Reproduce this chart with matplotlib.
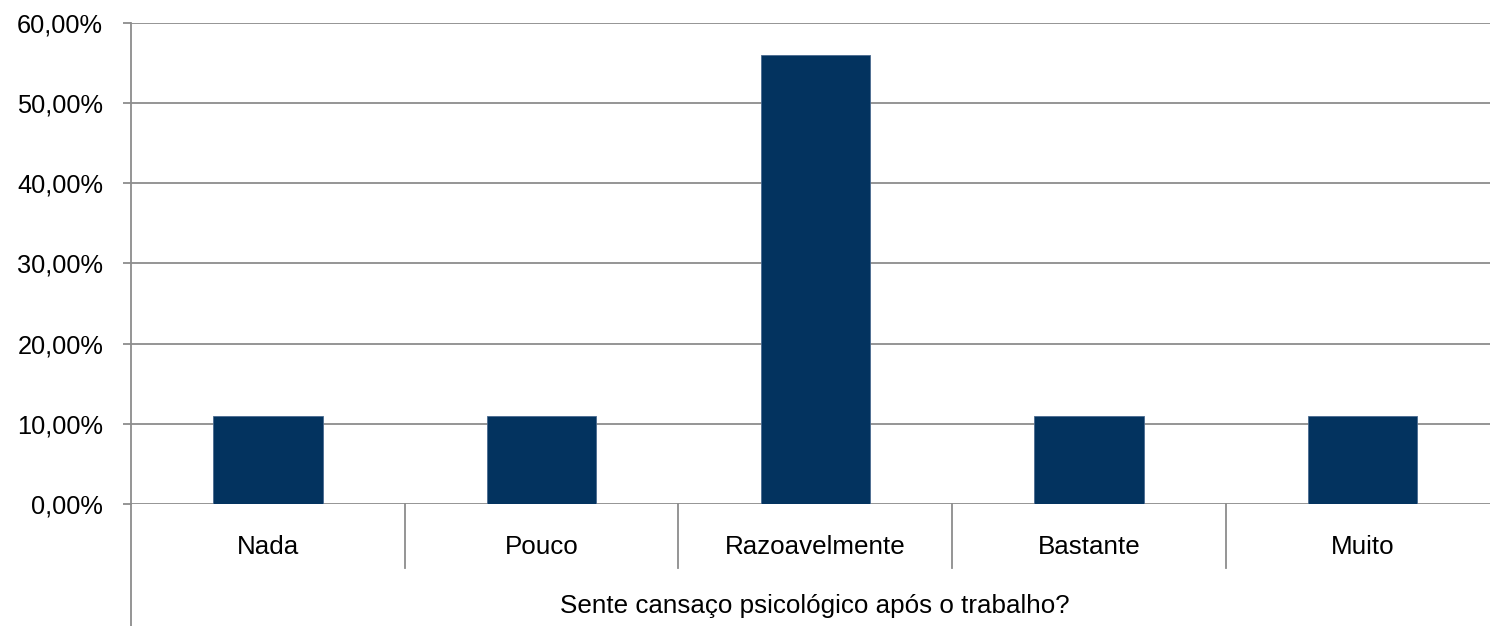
import matplotlib
matplotlib.use("Agg")
import matplotlib.pyplot as plt
import numpy as np

plt.rcParams['font.family'] = ['Liberation Sans', 'DejaVu Sans']

categories = ["Nada", "Pouco", "Razoavelmente", "Bastante", "Muito"]
values = [11, 11, 56, 11, 11]
yticks = [0, 10, 20, 30, 40, 50, 60]
xlabel = "Sente cansaço psicológico após o trabalho?"

W, H = 1490, 626
fig = plt.figure(figsize=(W / 100, H / 100), dpi=100)
left, right = 131, 1490
top, bottom = 22.7, 504
ax = fig.add_axes([left / W, 1 - bottom / H, (right - left) / W, (bottom - top) / H])

grid_col = "#8c8c8c"
bar_col = "#03335F"
x = np.arange(len(categories))
ax.bar(x, values, width=0.4, color=bar_col, edgecolor="#4a6a8f", linewidth=0.6, zorder=3)

cat_w = 273.7
ax.set_xlim(-0.5, -0.5 + (right - left) / cat_w)
ax.set_ylim(0, 60)
ax.set_yticks(yticks)
ax.set_yticklabels([f"{v:.2f}%".replace(".", ",") for v in yticks], fontsize=18.3)
ax.yaxis.grid(True, color=grid_col, linewidth=1.3, zorder=0)
ax.set_axisbelow(True)
ax.tick_params(axis="y", length=6, width=1.3, color=grid_col, pad=14)
ax.set_xticks([])
for s in ["top", "right", "bottom"]:
    ax.spines[s].set_visible(False)
ax.spines["left"].set_color(grid_col)
ax.spines["left"].set_linewidth(1.3)

tr = ax.get_xaxis_transform()
unit = bottom - top
# category separators below the axis
for i in range(1, len(categories)):
    ax.plot([i - 0.5, i - 0.5], [0, -(568 - bottom) / unit], transform=tr,
            color=grid_col, linewidth=1.3, clip_on=False)
# left axis line extended to the bottom
ax.plot([-0.5, -0.5], [0, -(H - bottom) / unit], transform=tr,
        color=grid_col, linewidth=1.3, clip_on=False)

for i, c in enumerate(categories):
    ax.text(i, -(547 - bottom) / unit, c, transform=tr, ha="center", va="center", fontsize=18.7)
ax.text(2, -(606 - bottom) / unit, xlabel, transform=tr, ha="center", va="center", fontsize=18.7)

fig.savefig("out.png", dpi=100)
